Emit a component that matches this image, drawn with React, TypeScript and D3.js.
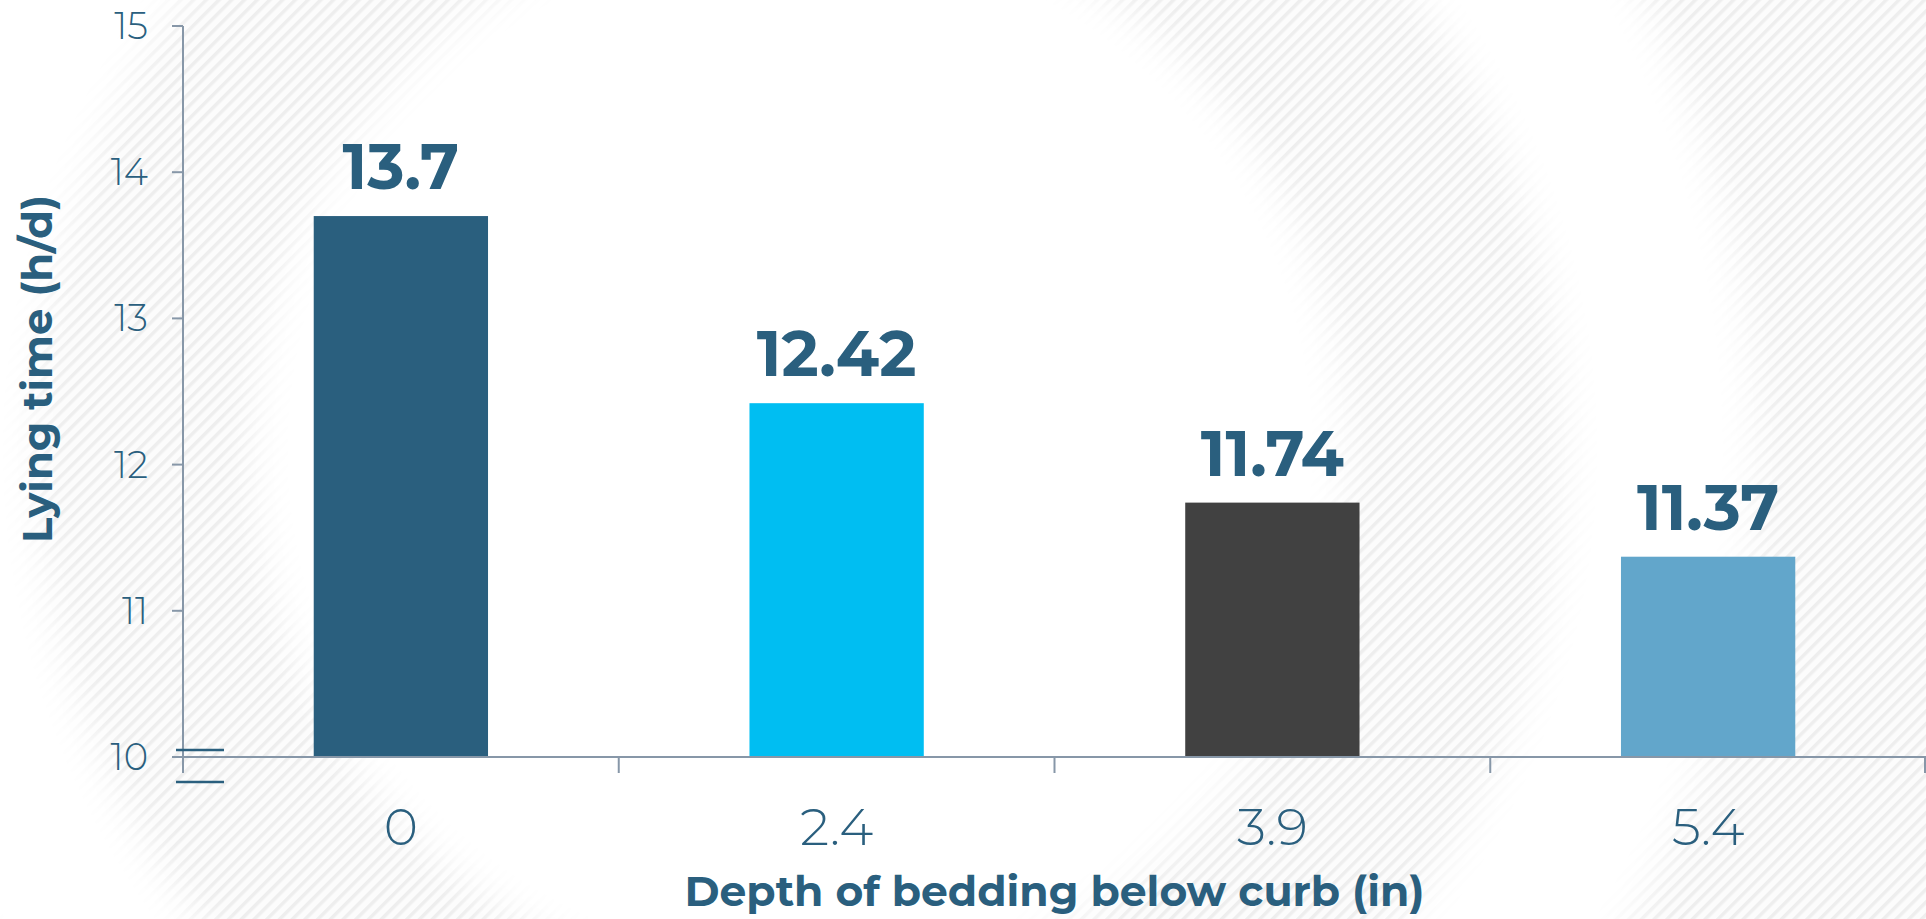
import React from "react";
import * as d3 from "d3";

const categories: string[] = ["0", "2.4", "3.9", "5.4"];
const values: number[] = [13.7, 12.42, 11.74, 11.37];
const valueLabels: string[] = ["13.7", "12.42", "11.74", "11.37"];
const barColors: string[] = ["#2a5f7e", "#00bef2", "#414141", "#62a6cb"];
const yTicks: number[] = [10, 11, 12, 13, 14, 15];
const xTitle = "Depth of bedding below curb (in)";
const yTitle = "Lying time (h/d)";

const W = 1926;
const H = 919;
const TEXT = "#2a5f7e";
const AXIS = "#8797a8";
const FONT = "Montserrat, 'Open Sans', 'Noto Sans', sans-serif";

export default function App() {
  const x = d3
    .scaleBand<string>()
    .domain(categories)
    .range([183, 1926])
    .paddingInner(0.6)
    .paddingOuter(0.3);
  const y = d3.scaleLinear().domain([10, 15]).range([757, 26]);
  const step = x.step();
  const x0 = 183;
  const boundaries = categories.map((_, i) => x0 + step * (i + 1));

  return (
    <svg
      width={W}
      height={H}
      style={{ position: "absolute", left: 0, top: 0, display: "block" }}
    >
      <defs>
        <pattern
          id="hatch"
          width="9"
          height="9"
          patternUnits="userSpaceOnUse"
          patternTransform="rotate(45)"
        >
          <rect width="9" height="9" fill="#fcfcfc" />
          <rect width="3.5" height="9" fill="#eeeeee" />
        </pattern>
        <filter id="soft" x="-20%" y="-20%" width="140%" height="140%">
          <feGaussianBlur stdDeviation="18" />
        </filter>
      </defs>
      <rect width={W} height={H} fill="url(#hatch)" />
      <g filter="url(#soft)">
        <circle cx={800} cy={450} r={545} fill="#ffffff" />
        <circle cx={800} cy={450} r={860} fill="none" stroke="#ffffff" strokeWidth={190} />
      </g>

      {/* bars */}
      {categories.map((c, i) => (
        <rect
          key={c}
          x={x(c)}
          y={y(values[i])}
          width={x.bandwidth()}
          height={y(10) - y(values[i])}
          fill={barColors[i]}
        />
      ))}

      {/* value labels */}
      {categories.map((c, i) => (
        <text
          key={"v" + c}
          x={(x(c) as number) + x.bandwidth() / 2}
          y={y(values[i]) - 27}
          textAnchor="middle"
          fontFamily={FONT}
          fontWeight={700}
          fontSize={63}
          fill={TEXT}
        >
          {valueLabels[i]}
        </text>
      ))}

      {/* y axis */}
      <line x1={183} x2={183} y1={y(15)} y2={773} stroke={AXIS} strokeWidth={2} />
      {yTicks.map((t) => (
        <g key={"yt" + t}>
          <line x1={172} x2={183} y1={y(t)} y2={y(t)} stroke={AXIS} strokeWidth={2} />
          <text
            x={148}
            y={y(t) + 13}
            textAnchor="end"
            fontFamily={FONT}
            fontWeight={300}
            fontSize={37}
            fill={TEXT}
          >
            {t}
          </text>
        </g>
      ))}

      {/* x axis */}
      <line x1={172} x2={1926} y1={y(10)} y2={y(10)} stroke={AXIS} strokeWidth={2} />
      {boundaries.map((b, i) => (
        <line
          key={"xt" + i}
          x1={Math.min(b, 1925)}
          x2={Math.min(b, 1925)}
          y1={y(10)}
          y2={773}
          stroke={AXIS}
          strokeWidth={2}
        />
      ))}
      {categories.map((c) => (
        <text
          key={"xl" + c}
          x={(x(c) as number) + x.bandwidth() / 2}
          y={845}
          textAnchor="middle"
          fontFamily={FONT}
          fontWeight={300}
          fontSize={52}
          fill={TEXT}
        >
          {c}
        </text>
      ))}

      {/* axis break marks */}
      <line x1={176} x2={224} y1={750} y2={750} stroke={TEXT} strokeWidth={2.5} />
      <line x1={176} x2={224} y1={782} y2={782} stroke={TEXT} strokeWidth={2.5} />

      {/* titles */}
      <text
        x={(183 + 1926) / 2}
        y={906}
        textAnchor="middle"
        fontFamily={FONT}
        fontWeight={700}
        fontSize={42}
        fill={TEXT}
        textLength={740}
        lengthAdjust="spacingAndGlyphs"
      >
        {xTitle}
      </text>
      <text
        transform={`translate(52, ${369}) rotate(-90)`}
        textAnchor="middle"
        fontFamily={FONT}
        fontWeight={700}
        fontSize={42}
        fill={TEXT}
        textLength={348}
        lengthAdjust="spacingAndGlyphs"
      >
        {yTitle}
      </text>
    </svg>
  );
}
